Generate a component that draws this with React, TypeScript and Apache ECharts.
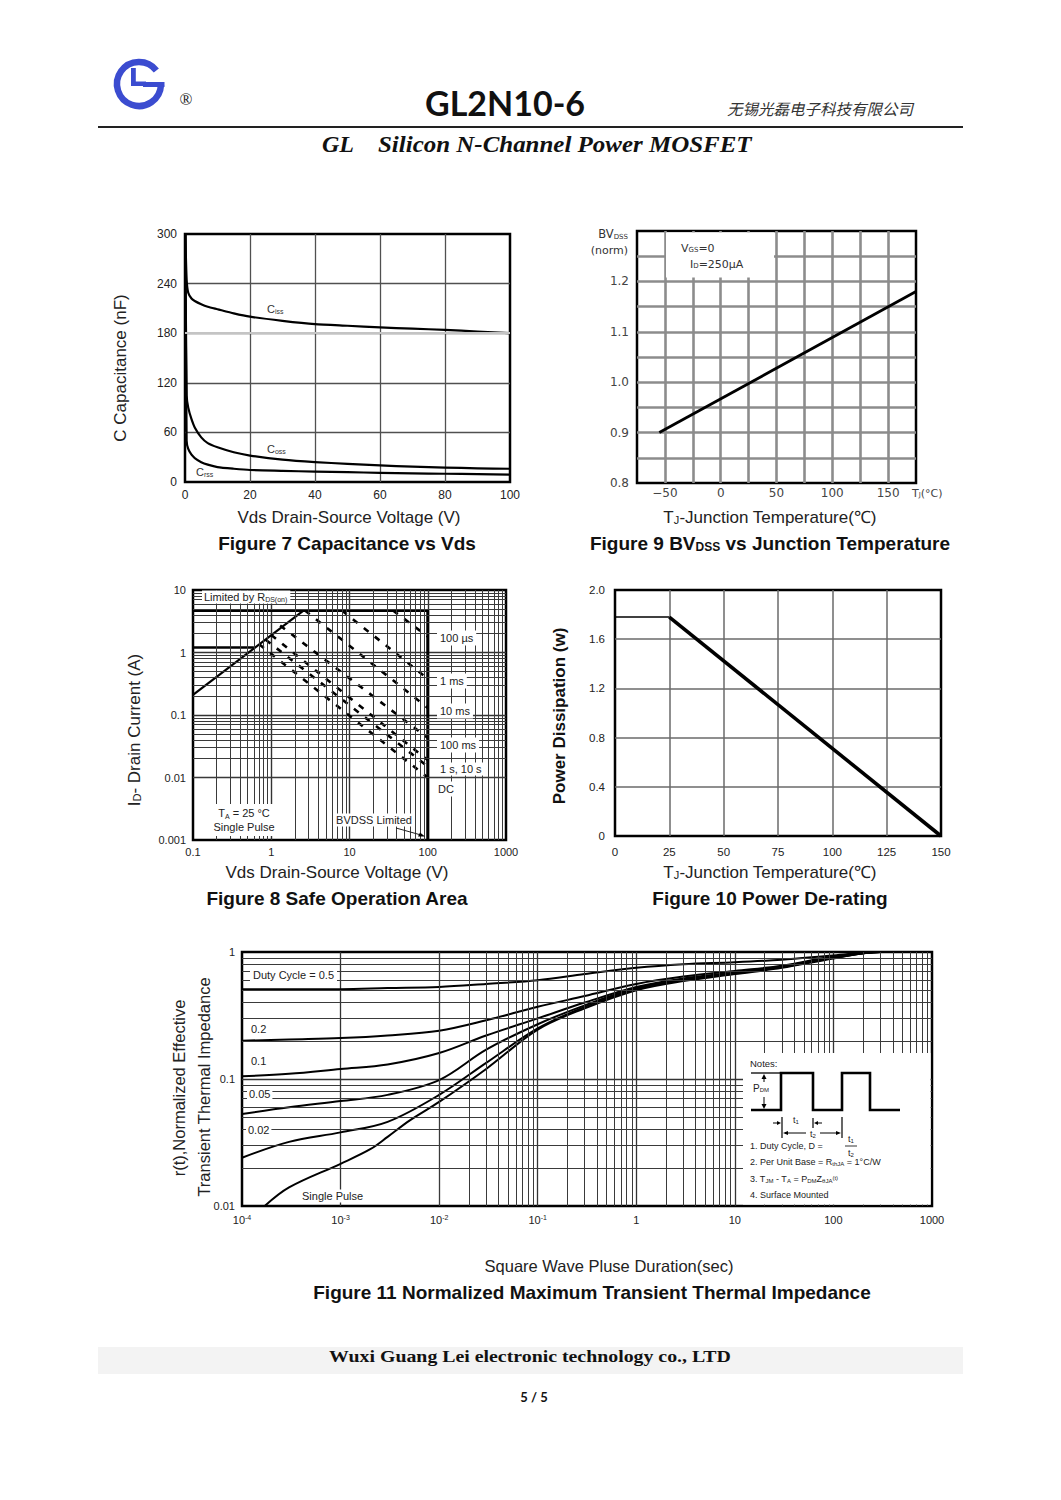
import React, { useEffect, useRef } from 'react';
import * as echarts from 'echarts';

const SANS = '"Liberation Sans", Arial, Helvetica, sans-serif';
const SERIF = '"Liberation Serif", "Times New Roman", serif';
const DEJAVU = '"DejaVu Sans", "Liberation Sans", sans-serif';

// ---------- Figure 7: Capacitance vs Vds ----------
const capVds = [0.1, 0.5, 1, 2, 3, 5, 7, 10, 15, 20, 30, 40, 50, 60, 70, 80, 90, 100];
const capCiss = [300, 245, 229, 222, 219, 215, 212, 209, 204, 200, 195, 191, 189, 187, 185.5, 184, 182, 180];
const capCoss = [300, 105, 90, 76, 66, 54, 47, 42, 36, 32, 27, 24, 22, 20, 18.5, 17.5, 16.5, 16];
const capCrss = [300, 50, 40, 33, 29, 24, 21, 18, 16, 14.5, 13.5, 12.5, 12, 11, 10.5, 10, 9.5, 9];

// ---------- Figure 9: BVdss vs Tj ----------
const bvTemp = [-55, 175];
const bvNorm = [0.9, 1.18];

// ---------- Figure 8: Safe operating area ----------
const soaRdsV = [0.1, 2.6];
const soaRdsI = [0.21, 4.7];
const soaIdmV = [0.1, 0.6];
const soaIdmI = [1.2, 1.2];
const soaBoxV = [0.1, 100, 100];
const soaBoxI = [4.7, 4.7, 0.001];
const soaPulseNames = ['100 µs', '1 ms', '10 ms', '100 ms', '1 s', '10 s', 'DC'];
const soaPulseStartV = [36, 8, 2.7, 1.3, 1.0, 0.85, 0.7];
const soaPulseStartI = [4.7, 4.7, 4.7, 2.7, 1.9, 1.6, 1.35];
const soaPulseEndV = [100, 100, 100, 100, 100, 100, 100];
const soaPulseEndI = [1.8, 0.38, 0.13, 0.043, 0.019, 0.015, 0.01];

// ---------- Figure 10: Power de-rating ----------
const pdTemp = [0, 25, 150];
const pdPower = [1.78, 1.78, 0];

// ---------- Figure 11: Transient thermal impedance ----------
const zthTime = [1e-4, 3e-4, 1e-3, 3e-3, 1e-2, 3e-2, 0.1, 0.3, 1, 3, 10, 30, 100, 300, 1000];
const zthD50 = [0.51, 0.51, 0.51, 0.52, 0.53, 0.56, 0.6, 0.67, 0.75, 0.8, 0.83, 0.87, 0.94, 1.0, 1.0];
const zthD20 = [0.2, 0.205, 0.21, 0.22, 0.24, 0.29, 0.37, 0.45, 0.56, 0.64, 0.71, 0.78, 0.92, 1.0, 1.0];
const zthD10 = [0.105, 0.11, 0.12, 0.13, 0.16, 0.22, 0.3, 0.4, 0.53, 0.62, 0.69, 0.77, 0.91, 1.0, 1.0];
const zthD05 = [0.053, 0.06, 0.067, 0.075, 0.098, 0.17, 0.27, 0.38, 0.52, 0.61, 0.68, 0.76, 0.9, 1.0, 1.0];
const zthD02 = [0.024, 0.032, 0.038, 0.046, 0.075, 0.134, 0.25, 0.37, 0.51, 0.6, 0.68, 0.76, 0.9, 1.0, 1.0];
const zthSingleTime = [1.7e-4, 3e-4, 1e-3, 2e-3, 3e-3, 5e-3, 1e-2, 3e-2, 0.1, 0.3, 1, 3, 10, 30, 100, 300, 1000];
const zthSingle = [0.01, 0.014, 0.0215, 0.028, 0.035, 0.047, 0.066, 0.12, 0.245, 0.36, 0.5, 0.59, 0.67, 0.75, 0.89, 1.0, 1.0];

// log-axis decades (for minor grid lines)
const soaXDecades = [0.1, 1, 10, 100];
const soaYDecades = [0.001, 0.01, 0.1, 1];
const zthXDecades = [1e-4, 1e-3, 1e-2, 0.1, 1, 10, 100];
const zthYDecades = [0.01, 0.1];
const minorSteps = [2, 3, 4, 5, 6, 7, 8, 9];

const pair = (xs: number[], ys: number[]) => xs.map((x, i) => [x, ys[i]]);
const minorOf = (decades: number[]) =>
  decades.flatMap((d) => minorSteps.map((k) => Number((d * k).toPrecision(3))));

function line(grid: number, xs: number[], ys: number[], o: any = {}) {
  return {
    type: 'line',
    xAxisIndex: grid,
    yAxisIndex: grid,
    data: pair(xs, ys),
    showSymbol: false,
    symbol: 'none',
    silent: true,
    z: 3,
    smooth: o.smooth ?? false,
    lineStyle: { color: '#000', width: o.width ?? 2, type: o.dash ?? 'solid', cap: 'butt', join: 'round' },
  };
}

function gridLines(grid: number, xs: number[], ys: number[], color: string, width: number, p0: number[]) {
  return {
    type: 'line',
    xAxisIndex: grid,
    yAxisIndex: grid,
    data: [p0],
    symbol: 'none',
    showSymbol: false,
    silent: true,
    z: 1,
    lineStyle: { opacity: 0 },
    markLine: {
      silent: true,
      symbol: ['none', 'none'],
      label: { show: false },
      animation: false,
      lineStyle: { color, width, type: 'solid' },
      data: [...xs.map((v) => ({ xAxis: v })), ...ys.map((v) => ({ yAxis: v }))],
    },
  };
}

function axis(grid: number, type: string, o: any) {
  return {
    gridIndex: grid,
    type,
    min: o.min,
    max: o.max,
    interval: o.interval,
    axisLine: { show: false },
    axisTick: { show: false },
    axisLabel: {
      show: true,
      margin: o.margin ?? 8,
      fontSize: o.fontSize ?? 12,
      color: o.color ?? '#222',
      fontFamily: o.font ?? SANS,
      formatter: o.formatter,
      rich: o.rich,
      showMinLabel: true,
      showMaxLabel: true,
      hideOverlap: false,
    },
    splitLine: {
      show: true,
      showMinLine: false,
      showMaxLine: false,
      lineStyle: { color: o.gridColor ?? '#555', width: o.gridWidth ?? 1.2 },
    },
  };
}

function richFor(size: number, color: string, weight = 'normal', family = SANS) {
  return {
    n: { fontSize: size, fill: color, fontWeight: weight, fontFamily: family },
    sub: { fontSize: Math.round(size * 0.62), fill: color, fontWeight: weight, fontFamily: family, verticalAlign: 'bottom' },
    sup: { fontSize: Math.round(size * 0.62), fill: color, fontWeight: weight, fontFamily: family, verticalAlign: 'top' },
  };
}

function T(x: number, y: number, text: string, o: any = {}) {
  const size = o.size ?? 15;
  const color = o.color ?? '#1a1a1a';
  const weight = o.weight ?? 'normal';
  const family = o.family ?? SANS;
  const style: any = {
    text,
    fill: color,
    fontSize: size,
    fontFamily: family,
    fontWeight: weight,
    fontStyle: o.fontStyle ?? 'normal',
    textAlign: o.align ?? 'center',
    textVerticalAlign: o.valign ?? 'middle',
    align: o.align ?? 'center',
    verticalAlign: o.valign ?? 'middle',
    rich: richFor(size, color, weight, family),
  };
  if (o.bg) {
    style.backgroundColor = o.bg;
    style.padding = o.pad ?? [1, 2];
  }
  if (o.lineHeight) style.lineHeight = o.lineHeight;
  const el: any = { type: 'text', x, y, rotation: o.rot ?? 0, z: 100, silent: true, style };
  if (o.scaleX) el.scaleX = o.scaleX;
  if (o.scaleY) el.scaleY = o.scaleY;
  return el;
}

function L(x1: number, y1: number, x2: number, y2: number, w = 1.2, color = '#000') {
  return { type: 'line', z: 101, silent: true, shape: { x1, y1, x2, y2 }, style: { stroke: color, lineWidth: w } };
}

function P(points: number[][], fill = '#000') {
  return { type: 'polygon', z: 101, silent: true, shape: { points }, style: { fill } };
}

function buildOption() {
  const grids = [
    { left: 185, top: 234, width: 325, height: 248 },
    { left: 637, top: 231, width: 279, height: 252 },
    { left: 193, top: 590, width: 313, height: 250 },
    { left: 615, top: 590, width: 326, height: 246 },
    { left: 242, top: 952, width: 690, height: 254 },
  ].map((g) => ({ ...g, show: true, borderColor: '#000', borderWidth: 2.5, backgroundColor: 'rgba(0,0,0,0)', containLabel: false }));

  const logFmt = (v: number) => String(Number(v.toPrecision(3)));

  const xAxis = [
    axis(0, 'value', { min: 0, max: 100, interval: 20, margin: 7, gridColor: '#505050', gridWidth: 1.3 }),
    axis(1, 'value', {
      min: -75, max: 175, interval: 25, margin: 4, font: DEJAVU, color: '#444', fontSize: 12,
      gridColor: '#8c8c8c', gridWidth: 2.6,
      formatter: (v: number) => (Math.round(v) % 50 === 0 && v > -75 && v < 175 ? (v < 0 ? '\u2212' + Math.abs(v) : String(v)) : ''),
    }),
    axis(2, 'log', { min: 0.1, max: 1000, margin: 6, fontSize: 11, gridColor: '#333', gridWidth: 1.4, formatter: logFmt }),
    axis(3, 'value', { min: 0, max: 150, interval: 25, margin: 10, fontSize: 11.5, gridColor: '#6a6a6a', gridWidth: 1.5 }),
    axis(4, 'log', {
      min: 1e-4, max: 1000, margin: 8, fontSize: 11, gridColor: '#333', gridWidth: 1.3,
      formatter: (v: number) => {
        const e = Math.round(Math.log10(v));
        return e < 0 ? '10{sup|' + e + '}' : String(Math.round(Math.pow(10, e)));
      },
      rich: { sup: { fontSize: 7, color: '#222', verticalAlign: 'top', fontFamily: SANS } },
    }),
  ];

  const yAxis = [
    axis(0, 'value', { min: 0, max: 300, interval: 60, margin: 8, gridColor: '#505050', gridWidth: 1.3 }),
    axis(1, 'value', {
      min: 0.8, max: 1.3, interval: 0.05, margin: 8, font: DEJAVU, color: '#444', fontSize: 12,
      gridColor: '#8c8c8c', gridWidth: 2.6,
      formatter: (v: number) => {
        const r = Math.round(v * 100);
        return r % 10 === 0 && r < 130 ? (r / 100).toFixed(1) : '';
      },
    }),
    axis(2, 'log', { min: 0.001, max: 10, margin: 7, fontSize: 11, gridColor: '#333', gridWidth: 1.4, formatter: logFmt }),
    axis(3, 'value', {
      min: 0, max: 2, interval: 0.4, margin: 10, fontSize: 11.5, gridColor: '#6a6a6a', gridWidth: 1.5,
      formatter: (v: number) => (v === 0 ? '0' : v.toFixed(1)),
    }),
    axis(4, 'log', { min: 0.01, max: 1, margin: 7, fontSize: 11, gridColor: '#333', gridWidth: 1.3, formatter: logFmt }),
  ];

  const series: any[] = [
    // Figure 7
    { ...gridLines(0, [], [180], '#c4c4c4', 2.2, [50, 150]), z: 2 },
    line(0, capVds, capCiss, { width: 2.2, smooth: 0.2 }),
    line(0, capVds, capCoss, { width: 2.2, smooth: 0.2 }),
    line(0, capVds, capCrss, { width: 2.2, smooth: 0.2 }),
    // Figure 9
    line(1, bvTemp, bvNorm, { width: 2.8 }),
    // Figure 8
    gridLines(2, minorOf(soaXDecades), minorOf(soaYDecades), '#3a3a3a', 1, [1, 1]),
    line(2, soaRdsV, soaRdsI, { width: 2.2 }),
    line(2, soaIdmV, soaIdmI, { width: 2.6 }),
    line(2, soaBoxV, soaBoxI, { width: 3 }),
    ...soaPulseNames.map((_, i) =>
      line(2, [soaPulseStartV[i], soaPulseEndV[i]], [soaPulseStartI[i], soaPulseEndI[i]], { width: 2.6, dash: [6, 8] })
    ),
    // Figure 10
    line(3, pdTemp.slice(0, 2), pdPower.slice(0, 2), { width: 1.6 }),
    line(3, pdTemp.slice(1), pdPower.slice(1), { width: 3.6 }),
    // Figure 11
    gridLines(4, minorOf(zthXDecades), minorOf(zthYDecades), '#3a3a3a', 1, [1, 0.5]),
    line(4, zthTime, zthD50, { width: 2, smooth: 0.35 }),
    line(4, zthTime, zthD20, { width: 2, smooth: 0.35 }),
    line(4, zthTime, zthD10, { width: 2, smooth: 0.35 }),
    line(4, zthTime, zthD05, { width: 2, smooth: 0.35 }),
    line(4, zthTime, zthD02, { width: 2, smooth: 0.35 }),
    line(4, zthSingleTime, zthSingle, { width: 2, smooth: 0.35 }),
  ];

  const BLUE = '#3b4cd0';
  const graphic: any[] = [
    // ---------- header ----------
    {
      type: 'arc', z: 100, silent: true,
      shape: { cx: 139, cy: 84, r: 22, startAngle: 0.05, endAngle: 5.62, clockwise: true },
      style: { stroke: BLUE, lineWidth: 6.5, fill: 'none' },
    },
    { type: 'rect', z: 100, silent: true, shape: { x: 143, y: 82, width: 21.5, height: 5 }, style: { fill: BLUE } },
    { type: 'rect', z: 100, silent: true, shape: { x: 131, y: 68, width: 4.8, height: 18 }, style: { fill: BLUE } },
    { type: 'rect', z: 100, silent: true, shape: { x: 131, y: 81.5, width: 15, height: 4.5 }, style: { fill: BLUE } },
    T(186, 99, '®', { size: 17, family: SERIF, color: '#222' }),
    T(505, 102, 'GL2N10-6', { size: 34, weight: 'bold', family: 'Lato, "Open Sans", sans-serif', color: '#111' }),
    T(820, 108, '无锡光磊电子科技有限公司', { size: 15.5, family: '"Noto Sans CJK SC", sans-serif', fontStyle: 'italic', color: '#333' }),
    L(98, 127, 963, 127, 2, '#222'),
    T(322, 144, 'GL', { size: 24, weight: 'bold', fontStyle: 'italic', family: SERIF, align: 'left', color: '#111' }),
    T(378, 144, 'Silicon N-Channel Power MOSFET', { size: 24, weight: 'bold', fontStyle: 'italic', family: SERIF, align: 'left', color: '#111', scaleX: 1.04 }),

    // ---------- Figure 7 ----------
    T(120, 368, 'C Capacitance (nF)', { size: 17, rot: Math.PI / 2, color: '#222' }),
    T(349, 517, 'Vds Drain-Source Voltage (V)', { size: 17, color: '#222' }),
    T(347, 543, 'Figure 7 Capacitance vs Vds', { size: 19, weight: 'bold', color: '#111' }),
    T(267, 309, 'C{sub|iss}', { size: 11, align: 'left', color: '#333' }),
    T(267, 449, 'C{sub|oss}', { size: 11, align: 'left', color: '#333' }),
    T(196, 472, 'C{sub|rss}', { size: 11, align: 'left', color: '#333' }),

    // ---------- Figure 9 ----------
    { type: 'rect', z: 99, silent: true, shape: { x: 666, y: 232.5, width: 108, height: 45 }, style: { fill: '#fff' } },
    T(681, 248, 'V{sub|GS}=0', { size: 11, align: 'left', family: DEJAVU, color: '#333' }),
    T(690, 264, 'I{sub|D}=250μA', { size: 11, align: 'left', family: DEJAVU, color: '#333' }),
    T(628, 234, 'BV{sub|DSS}', { size: 11.5, align: 'right', family: DEJAVU, color: '#333' }),
    T(628, 250, '(norm)', { size: 11, align: 'right', family: DEJAVU, color: '#333' }),
    T(912, 493, 'T{sub|J}(°C)', { size: 11, align: 'left', family: DEJAVU, color: '#444' }),
    T(770, 517, 'T{sub|J}-Junction Temperature(℃)', { size: 17, color: '#222' }),
    T(770, 543, 'Figure 9 BV{sub|DSS} vs Junction Temperature', { size: 19, weight: 'bold', color: '#111' }),

    // ---------- Figure 8 ----------
    T(202, 597, 'Limited by R{sub|DS(on)}', { size: 11, align: 'left', bg: '#fff', pad: [1, 3, 1, 2], color: '#222' }),
    T(244, 820, 'T{sub|A} = 25 °C\nSingle Pulse', { size: 11, bg: '#fff', pad: [2, 4], lineHeight: 14, color: '#222' }),
    T(374, 820, 'BVDSS Limited', { size: 11, bg: '#fff', pad: [1, 2], color: '#222' }),
    L(396, 828, 421, 835, 1, '#222'),
    P([[425, 836.5], [418, 836.5], [420, 832.5]]),
    T(437, 638, '100 µs', { size: 11, align: 'left', bg: '#fff', pad: [2, 3], color: '#222' }),
    T(437, 681, '1 ms', { size: 11, align: 'left', bg: '#fff', pad: [2, 3], color: '#222' }),
    T(437, 711, '10 ms', { size: 11, align: 'left', bg: '#fff', pad: [2, 3], color: '#222' }),
    T(437, 745, '100 ms', { size: 11, align: 'left', bg: '#fff', pad: [2, 3], color: '#222' }),
    T(437, 769, '{n|1 s, 10 s}', { size: 11, align: 'left', bg: '#fff', pad: [1, 3], color: '#222' }),
    T(435, 789, 'DC', { size: 11, align: 'left', bg: '#fff', pad: [2, 3], color: '#222' }),
    T(134, 730, 'I{sub|D}- Drain Current (A)', { size: 17, rot: Math.PI / 2, color: '#222' }),
    T(337, 872, 'Vds Drain-Source Voltage (V)', { size: 17, color: '#222' }),
    T(337, 898, 'Figure 8 Safe Operation Area', { size: 19, weight: 'bold', color: '#111' }),

    // ---------- Figure 10 ----------
    T(559, 716, 'Power Dissipation (w)', { size: 17, weight: 'bold', rot: Math.PI / 2, color: '#111' }),
    T(770, 872, 'T{sub|J}-Junction Temperature(℃)', { size: 17, color: '#222' }),
    T(770, 898, 'Figure 10 Power De-rating', { size: 19, weight: 'bold', color: '#111' }),

    // ---------- Figure 11 ----------
    T(250, 975, 'Duty Cycle = 0.5', { size: 11, align: 'left', bg: '#fff', pad: [2, 3], color: '#222' }),
    T(249, 1029, '0.2', { size: 11, align: 'left', bg: '#fff', pad: [1, 2], color: '#222' }),
    T(249, 1061, '0.1', { size: 11, align: 'left', bg: '#fff', pad: [1, 2], color: '#222' }),
    T(247, 1094, '0.05', { size: 11, align: 'left', bg: '#fff', pad: [1, 2], color: '#222' }),
    T(246, 1130, '0.02', { size: 11, align: 'left', bg: '#fff', pad: [1, 2], color: '#222' }),
    T(300, 1196, 'Single Pulse', { size: 11, align: 'left', bg: '#fff', pad: [1, 2], color: '#222' }),
    { type: 'rect', z: 99, silent: true, shape: { x: 743, y: 1053, width: 187.5, height: 151.5 }, style: { fill: '#fff' } },
    T(750, 1063, 'Notes:', { size: 9.5, align: 'left', color: '#222' }),
    T(753, 1088, 'P{sub|DM}', { size: 10, align: 'left', color: '#222' }),
    L(751, 1073, 780, 1073, 1.3),
    L(764, 1077, 764, 1082, 1),
    P([[764, 1074], [761.5, 1079], [766.5, 1079]]),
    L(764, 1097, 764, 1106, 1),
    P([[764, 1109], [761.5, 1104], [766.5, 1104]]),
    {
      type: 'polyline', z: 101, silent: true,
      shape: { points: [[751, 1110], [781, 1110], [781, 1073], [813, 1073], [813, 1110], [842, 1110], [842, 1073], [870, 1073], [870, 1110], [900, 1110]] },
      style: { stroke: '#000', lineWidth: 2.6, fill: 'none' },
    },
    L(782, 1117, 782, 1138, 1.2),
    L(813, 1118, 813, 1128, 1.2),
    L(842, 1117, 842, 1138, 1.2),
    L(773, 1123, 779, 1123, 1),
    P([[781, 1123], [777, 1121], [777, 1125]]),
    L(816, 1123, 822, 1123, 1),
    P([[814, 1123], [818, 1121], [818, 1125]]),
    T(796, 1120, 't{sub|1}', { size: 9, color: '#222' }),
    L(785, 1133, 806, 1133, 1),
    L(820, 1133, 838, 1133, 1),
    P([[783, 1133], [788, 1131], [788, 1135]]),
    P([[841, 1133], [836, 1131], [836, 1135]]),
    T(813, 1134, 't{sub|2}', { size: 9, color: '#222' }),
    T(750, 1146, '1. Duty Cycle, D =', { size: 9, align: 'left', color: '#222' }),
    T(851, 1139, 't{sub|1}', { size: 9, color: '#222' }),
    L(845, 1146, 857, 1146, 0.8),
    T(851, 1153, 't{sub|2}', { size: 9, color: '#222' }),
    T(750, 1162, '2. Per Unit Base = R{sub|thJA} = 1°C/W', { size: 9, align: 'left', color: '#222' }),
    T(750, 1179, '3. T{sub|JM} - T{sub|A} = P{sub|DM}Z{sub|θJA}{sup|(t)}', { size: 9, align: 'left', color: '#222' }),
    T(750, 1195, '4. Surface Mounted', { size: 9, align: 'left', color: '#222' }),
    T(179, 1088, 'r(t),Normalized Effective', { size: 16.5, rot: Math.PI / 2, color: '#222' }),
    T(204, 1087, 'Transient Thermal Impedance', { size: 16.5, rot: Math.PI / 2, color: '#222' }),
    T(609, 1266, 'Square Wave Pluse Duration(sec)', { size: 16.5, color: '#222' }),
    T(592, 1292, 'Figure 11 Normalized Maximum Transient Thermal Impedance', { size: 19, weight: 'bold', color: '#111' }),

    // ---------- footer ----------
    { type: 'rect', z: 98, silent: true, shape: { x: 98, y: 1347, width: 865, height: 27 }, style: { fill: '#f3f3f3' } },
    T(530, 1357, 'Wuxi Guang Lei electronic technology co., LTD', { size: 16, weight: 'bold', family: SERIF, color: '#111', scaleX: 1.24 }),
    T(534, 1397, '5 / 5', { size: 13, weight: 'bold', family: 'Lato, sans-serif', color: '#111' }),
  ];

  return {
    animation: false,
    backgroundColor: '#fff',
    grid: grids,
    xAxis,
    yAxis,
    series,
    graphic,
  };
}

export default function App() {
  const ref = useRef<HTMLDivElement>(null);
  useEffect(() => {
    document.body.style.margin = '0';
    const chart = echarts.init(ref.current as HTMLDivElement, null, { renderer: 'svg', width: 1061, height: 1500 });
    chart.setOption(buildOption() as any);
    return () => chart.dispose();
  }, []);
  return <div ref={ref} style={{ width: 1061, height: 1500, background: '#fff' }} />;
}
